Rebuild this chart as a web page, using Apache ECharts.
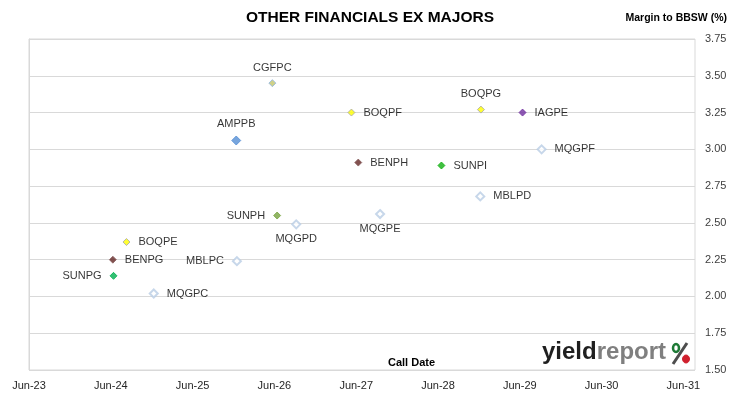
<!DOCTYPE html>
<html>
<head>
<meta charset="utf-8">
<script src="https://cdn.jsdelivr.net/npm/echarts@6/dist/echarts.min.js"></script>
<style>
  html, body { margin: 0; padding: 0; background: #fff; }
  #chart { width: 730px; height: 399px; }
</style>
</head>
<body>
<div id="chart"></div>
<script>
// securities, call dates and margins
const codes = ["CGFPC", "AMPPB", "BOQPF", "BENPH", "BOQPG", "IAGPE", "MQGPF", "SUNPI", "MBLPD",
  "MQGPE", "SUNPH", "MQGPD", "BOQPE", "BENPG", "SUNPG", "MBLPC", "MQGPC"];
const callDates = ["2026-05-22", "2025-12-13", "2027-05-10", "2027-06-10", "2028-12-10", "2029-06-13",
  "2029-09-07", "2028-06-16", "2028-12-07", "2027-09-16", "2026-06-13", "2026-09-07", "2024-08-10",
  "2024-06-10", "2024-06-13", "2025-12-16", "2024-12-10"];
const margins = [3.45, 3.06, 3.25, 2.91, 3.27, 3.25, 3.00, 2.89, 2.68, 2.56, 2.55, 2.49, 2.37, 2.25, 2.14, 2.24, 2.02];
const yTicks = [1.5, 1.75, 2.0, 2.25, 2.5, 2.75, 3.0, 3.25, 3.5, 3.75];
const xTickLabels = ["Jun-23", "Jun-24", "Jun-25", "Jun-26", "Jun-27", "Jun-28", "Jun-29", "Jun-30", "Jun-31"];

// marker look per issuer (fill, border, label side)
const hollow = { fill: "#ffffff", border: "#b9cde5", size: 8 };
const looks = {
  CGFPC: { fill: "#c3c66a", border: "#8eb4e3", pos: "top" },
  AMPPB: { fill: "#558ed5", border: "#558ed5", pos: "top", size: 9 },
  BOQPF: { fill: "#ffff00", border: "#a6a6a6", pos: "right" },
  BOQPG: { fill: "#ffff00", border: "#a6a6a6", pos: "top" },
  BOQPE: { fill: "#ffff00", border: "#a6a6a6", pos: "right" },
  BENPH: { fill: "#632523", border: "#8c6464", pos: "right" },
  BENPG: { fill: "#632523", border: "#8c6464", pos: "right" },
  IAGPE: { fill: "#7030a0", border: "#7030a0", pos: "right" },
  SUNPI: { fill: "#11b011", border: "#11b011", pos: "right" },
  SUNPH: { fill: "#77a33f", border: "#77a33f", pos: "left" },
  SUNPG: { fill: "#00b050", border: "#00b050", pos: "left" },
  MQGPF: { ...hollow, pos: "right" },
  MBLPD: { ...hollow, pos: "right" },
  MQGPE: { ...hollow, pos: "bottom" },
  MQGPD: { ...hollow, pos: "bottom" },
  MBLPC: { ...hollow, pos: "left" },
  MQGPC: { ...hollow, pos: "right" }
};

// months after Jun-23
const toMonths = (s) => {
  const [y, m, d] = s.split("-").map(Number);
  return (y - 2023) * 12 + (m - 6) + (d - 1) / 30;
};

const labelFont = "'Liberation Sans', Arial, sans-serif";

const series = codes.map((code, i) => {
  const lk = looks[code];
  const size = lk.size || 7;
  const dist = lk.pos === "top" ? 6 : lk.pos === "bottom" ? 4 : 8;
  return {
    name: code,
    type: "scatter",
    symbol: "diamond",
    symbolSize: size,
    data: [[toMonths(callDates[i]), margins[i]]],
    itemStyle: { color: lk.fill, borderColor: lk.border, borderWidth: lk.fill === "#ffffff" ? 2 : 1 },
    label: {
      show: true,
      position: lk.pos,
      distance: dist,
      formatter: code,
      color: "#000000",
      fontSize: 11,
      fontFamily: labelFont
    },
    emphasis: { disabled: true }
  };
});

const myChart = echarts.init(document.getElementById("chart"));

const option = {
  animation: false,
  backgroundColor: "#ffffff",
  grid: {
    left: 29,
    right: 35,
    top: 39,
    bottom: 29,
    show: true,
    borderColor: "#d9d9d9",
    borderWidth: 1
  },
  xAxis: {
    type: "value",
    min: 0,
    max: 97.7,
    interval: 12,
    axisLine: { show: false },
    axisTick: { show: false },
    splitLine: { show: false },
    axisLabel: {
      margin: 10,
      color: "#262626",
      fontSize: 11,
      fontFamily: labelFont,
      formatter: (v) => xTickLabels[Math.round(v / 12)] || ""
    }
  },
  yAxis: {
    type: "value",
    position: "right",
    min: yTicks[0],
    max: yTicks[yTicks.length - 1],
    interval: 0.25,
    axisLine: { show: true, lineStyle: { color: "#d9d9d9" } },
    axisTick: { show: true, length: 4, lineStyle: { color: "#d9d9d9" } },
    splitLine: { show: true, lineStyle: { color: "#d9d9d9", width: 1 } },
    axisLabel: {
      margin: 10,
      color: "#404040",
      fontSize: 11,
      fontFamily: labelFont,
      formatter: (v) => v.toFixed(2)
    }
  },
  graphic: [
    {
      type: "text",
      left: 370 - 124,
      top: 10,
      style: {
        text: "OTHER FINANCIALS EX MAJORS",
        font: "bold 15.5px 'Liberation Sans', Arial, sans-serif",
        fill: "#000000"
      }
    },
    {
      type: "text",
      right: 3,
      top: 13,
      style: {
        text: "Margin to BBSW (%)",
        font: "bold 10.5px 'Liberation Sans', Arial, sans-serif",
        fill: "#000000"
      }
    },
    {
      type: "text",
      left: 388,
      top: 357,
      style: {
        text: "Call Date",
        font: "bold 11px 'Liberation Sans', Arial, sans-serif",
        fill: "#000000"
      }
    },
    {
      type: "text",
      left: 542,
      top: 340,
      style: {
        text: "{a|yield}{b|report}",
        rich: {
          a: { fontFamily: "'Liberation Sans', Arial, sans-serif", fontWeight: "bold", fontSize: 24, fill: "#1f1f1f" },
          b: { fontFamily: "'Liberation Sans', Arial, sans-serif", fontWeight: "bold", fontSize: 24, fill: "#7f7f7f" }
        }
      }
    },
    // logo percent sign: slash with green and red rings
    { type: "line", shape: { x1: 673, y1: 364, x2: 687, y2: 343 }, style: { stroke: "#4d4d4d", lineWidth: 3 } },
    { type: "ellipse", shape: { cx: 676, cy: 348, rx: 3, ry: 4 }, style: { fill: "none", stroke: "#1e7a36", lineWidth: 2.5 } },
    { type: "ellipse", shape: { cx: 686, cy: 359, rx: 3.5, ry: 4 }, style: { fill: "#d0202e", stroke: "#d0202e", lineWidth: 1 } }
  ],
  series
};

myChart.setOption(option);
</script>
</body>
</html>
